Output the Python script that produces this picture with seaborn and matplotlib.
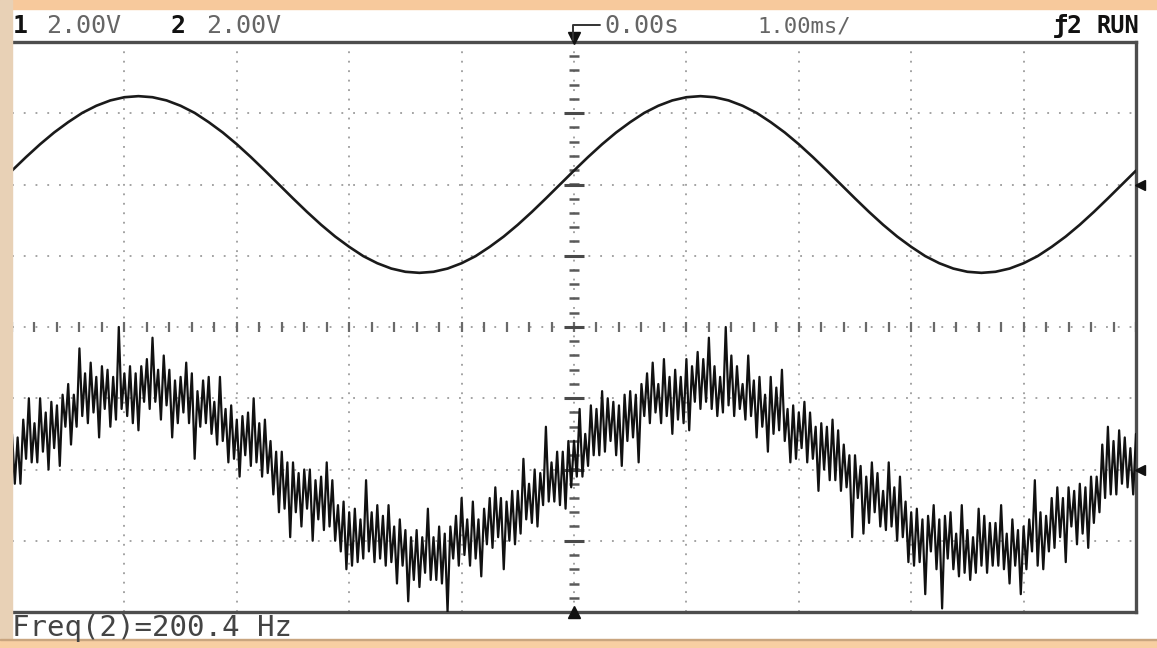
import numpy as np
import pandas as pd
import matplotlib
matplotlib.use("Agg")
import matplotlib.pyplot as plt
from matplotlib.patches import Rectangle
from matplotlib.lines import Line2D
import seaborn as sns

volts_per_div = [2.0, 2.0]      # canal 1, canal 2
ground_div = [2.0, -2.0]        # nivel de tierra de cada canal (div)
ms_per_div = 1.0

# canal 1: muestras cada 0.125 ms, de -5 a 5 ms (V)
ch1_v = [0.39, 0.77, 1.13, 1.46, 1.75, 2.01, 2.21, 2.36, 2.45, 2.48,
         2.45, 2.36, 2.21, 2.01, 1.75, 1.46, 1.13, 0.77, 0.39, 0.0,
         -0.39, -0.77, -1.13, -1.46, -1.75, -2.01, -2.21, -2.36, -2.45, -2.48,
         -2.45, -2.36, -2.21, -2.01, -1.75, -1.46, -1.13, -0.77, -0.39, 0.0,
         0.39, 0.77, 1.13, 1.46, 1.75, 2.01, 2.21, 2.36, 2.45, 2.48,
         2.45, 2.36, 2.21, 2.01, 1.75, 1.46, 1.13, 0.77, 0.39, 0.0,
         -0.39, -0.77, -1.13, -1.46, -1.75, -2.01, -2.21, -2.36, -2.45, -2.48,
         -2.45, -2.36, -2.21, -2.01, -1.75, -1.46, -1.13, -0.77, -0.39, 0.0,
         0.39]

# canal 2: muestras cada 0.025 ms, de -5 a 5 ms (V) -> señal con ruido
ch2_v = [1.0, -0.4, 0.9, -0.4, 1.4, 0.3, 2.0, 0.2, 1.3, 0.2,
         2.0, 0.5, 1.6, 0.0, 1.9, 0.6, 1.8, 0.1, 2.1, 1.2,
         2.4, 0.7, 2.1, 1.2, 3.4, 1.5, 2.7, 1.3, 3.0, 1.6,
         2.6, 0.9, 2.9, 1.7, 2.8, 1.2, 2.6, 1.4, 4.0, 1.7,
         2.7, 1.5, 2.9, 1.3, 2.7, 1.1, 2.9, 1.9, 3.1, 1.7,
         3.7, 1.9, 2.8, 1.4, 3.2, 1.8, 2.8, 0.9, 2.5, 1.3,
         2.6, 1.6, 3.0, 1.3, 2.7, 0.3, 2.2, 1.2, 2.5, 1.3,
         2.6, 1.0, 1.9, 0.7, 2.6, 0.8, 1.7, 0.2, 1.8, 0.3,
         1.4, -0.2, 1.5, 0.4, 1.6, 0.1, 2.0, 0.2, 1.3, -0.2,
         1.4, -0.1, 0.8, -0.7, 0.5, -1.2, 0.5, -1.1, 0.2, -1.9,
         0.2, -1.2, -0.1, -1.6, 0.0, -1.1, 0.0, -2.0, -0.3, -1.4,
         -0.2, -1.7, 0.2, -1.6, -0.3, -2.0, -1.0, -2.3, -0.9, -2.8,
         -1.2, -2.7, -1.1, -2.6, -1.4, -2.5, -0.3, -2.3, -1.2, -2.6,
         -1.0, -2.5, -1.3, -2.7, -1.0, -2.6, -1.6, -3.2, -1.4, -2.7,
         -1.7, -3.7, -1.9, -3.1, -1.7, -3.3, -1.9, -2.9, -1.1, -3.1,
         -1.9, -3.1, -1.6, -3.2, -1.8, -4.0, -1.6, -2.5, -1.3, -2.7,
         -0.8, -2.4, -1.4, -2.7, -0.9, -2.5, -1.4, -3.0, -1.1, -2.1,
         -0.8, -2.2, -0.5, -1.9, -0.8, -2.8, -0.9, -2.0, -0.6, -2.1,
         -0.6, -1.8, 0.3, -1.4, -0.4, -1.5, 0.0, -1.6, -0.1, -1.0,
         1.2, -0.9, 0.2, -0.9, 0.5, -1.0, 0.5, -1.1, 0.8, -0.5,
         0.8, -0.2, 1.7, -0.2, 1.0, 0.1, 1.8, 0.4, 1.7, 0.4,
         2.2, 0.5, 2.0, 0.8, 1.9, 0.4, 1.8, 0.1, 2.1, 0.8,
         2.2, 0.9, 2.1, 0.2, 2.4, 1.5, 2.7, 1.3, 3.0, 1.6,
         2.4, 1.3, 3.1, 1.5, 2.6, 1.0, 2.8, 1.4, 2.6, 1.3,
         3.1, 1.1, 2.9, 1.9, 3.3, 1.7, 3.1, 1.9, 3.7, 1.7,
         2.9, 1.5, 2.6, 1.6, 4.0, 1.8, 3.2, 1.5, 2.9, 1.7,
         2.4, 1.4, 3.2, 1.5, 2.5, 0.9, 2.6, 1.2, 2.1, 0.5,
         2.6, 1.0, 2.3, 1.1, 2.8, 0.8, 1.7, 0.2, 1.8, 0.3,
         1.6, 0.6, 1.9, 0.2, 1.6, 0.3, 1.2, -0.6, 1.3, 0.0,
         1.2, -0.3, 1.4, -0.3, 1.1, -0.6, 0.7, -0.5, 0.4, -1.9,
         0.4, -0.8, 0.1, -1.8, -0.2, -1.5, 0.2, -1.2, -0.1, -1.6,
         -0.6, -1.7, 0.2, -1.6, -0.5, -2.0, -0.2, -1.9, -0.9, -2.6,
         -1.2, -2.7, -1.1, -2.6, -1.4, -3.5, -1.3, -2.3, -1.0, -2.8,
         -1.4, -3.9, -1.3, -2.5, -1.2, -2.8, -1.8, -3.0, -1.0, -2.9,
         -1.7, -3.1, -1.9, -2.9, -1.1, -2.7, -1.3, -2.9, -1.5, -2.7,
         -1.5, -2.7, -1.0, -2.8, -1.8, -3.2, -1.4, -2.7, -1.7, -3.5,
         -1.6, -2.8, -1.4, -2.3, -0.3, -2.7, -1.2, -2.8, -1.3, -2.3,
         -0.8, -2.2, -0.5, -1.9, -0.8, -2.6, -0.5, -1.6, -0.6, -2.1,
         -0.4, -1.8, -0.5, -2.2, -0.2, -1.5, -0.2, -1.2, 0.7, -0.8,
         1.2, -0.7, 0.8, -0.7, 1.1, -0.4, 0.9, -0.5, 0.6, -0.7,
         1.0]

# textos de la pantalla
header_txt = ["1", "2.00V", "2", "2.00V", "0.00s", "1.00ms/", "ƒ2", "RUN"]
footer_txt = "Freq(2)=200.4 Hz"

# ---------------- tabla para seaborn ----------------
df1 = pd.DataFrame({"t": np.linspace(-5, 5, len(ch1_v)), "v": ch1_v})
df2 = pd.DataFrame({"t": np.linspace(-5, 5, len(ch2_v)), "v": ch2_v})
df1["div"] = df1["v"] / volts_per_div[0] + ground_div[0]
df2["div"] = df2["v"] / volts_per_div[1] + ground_div[1]

# ---------------- figura ----------------
W, H = 1157, 648
sns.set_style("white")
plt.rcParams["font.family"] = ["DejaVu Sans Mono", "DejaVu Sans"]
fig = plt.figure(figsize=(W / 100, H / 100), dpi=100)

def px(x, y):
    return x / W, 1 - y / H

# marco naranja/beige del recorte
fig.patches.append(Rectangle((0, 1 - 9 / H), 1, 9 / H, transform=fig.transFigure,
                             color="#f7c99c", zorder=0))
fig.patches.append(Rectangle((0, 0), 12 / W, 1, transform=fig.transFigure,
                             color="#e8d1b6", zorder=0))
fig.patches.append(Rectangle((0, 0), 1, 8 / H, transform=fig.transFigure,
                             color="#f8cfa2", zorder=0))
fig.patches.append(Rectangle((0, 8 / H), 1, 1.5 / H, transform=fig.transFigure,
                             color="#c9a57f", zorder=0))

ax = fig.add_axes([12 / W, (H - 612) / H, 1124 / W, 570 / H])
ax.set_xlim(-5, 5)
ax.set_ylim(-4, 4)

# retícula
for gx in range(-4, 5):
    ax.axvline(gx, color="#8a8a8a", lw=1.1, ls=(0, (1.2, 5)), zorder=1)
for gy in range(-3, 4):
    ax.axhline(gy, color="#8a8a8a", lw=1.1, ls=(0, (1.2, 6.5)), zorder=1)
ticks_x = np.arange(-5, 5.01, 0.2)
ticks_y = np.arange(-4, 4.01, 0.2)
ax.plot(ticks_x, np.zeros_like(ticks_x), ls="none", marker="|", ms=7,
        mew=1.6, color="#6a6a6a", zorder=1)
ax.plot(np.zeros_like(ticks_y), ticks_y, ls="none", marker="_", ms=7,
        mew=1.8, color="#5a5a5a", zorder=1)
ax.plot(np.zeros(7), np.arange(-3, 4), ls="none", marker="_", ms=14,
        mew=2.2, color="#4a4a4a", zorder=1)

# trazas
sns.lineplot(data=df2, x="t", y="div", ax=ax, color="#111111", lw=1.6,
             estimator=None, sort=False, zorder=3)
sns.lineplot(data=df1, x="t", y="div", ax=ax, color="#1a1a1a", lw=1.9,
             estimator=None, sort=False, zorder=4)

# marcadores de canal y disparo
ax.plot([5.04, 5.04], ground_div, ls="none", marker="<", ms=7, color="#111111",
        clip_on=False, zorder=5)
ax.plot([0], [4.05], ls="none", marker="v", ms=8, color="#111111", clip_on=False, zorder=5)
ax.plot([0], [-4], ls="none", marker="^", ms=8, color="#111111", clip_on=False, zorder=5)

ax.set_xticks([])
ax.set_yticks([])
ax.set_xlabel("")
ax.set_ylabel("")
for side in ["top", "bottom", "right"]:
    ax.spines[side].set_color("#4d4d4d")
    ax.spines[side].set_linewidth(2.4)
ax.spines["left"].set_visible(False)

# línea del disparo en la cabecera
fig.lines.append(Line2D([573 / W, 573 / W, 600 / W], [1 - 40 / H, 1 - 25 / H, 1 - 25 / H],
                        transform=fig.transFigure, color="#333333", lw=1.4))

# cabecera
gray = "#666666"
fs = 18
fig.text(*px(13, 26), header_txt[0], fontsize=fs, fontweight="bold", color="#111111", va="center")
fig.text(*px(46, 26), header_txt[1], fontsize=fs, color=gray, va="center")
fig.text(*px(171, 26), header_txt[2], fontsize=fs, fontweight="bold", color="#111111", va="center")
fig.text(*px(206, 26), header_txt[3], fontsize=fs, color=gray, va="center")
fig.text(*px(604, 26), header_txt[4], fontsize=fs, color=gray, va="center")
fig.text(*px(757, 26), header_txt[5], fontsize=fs - 2, color=gray, va="center")
fig.text(*px(1053, 26), header_txt[6], fontsize=fs, fontweight="bold", color="#111111", va="center")
fig.text(*px(1097, 26), header_txt[7], fontsize=fs - 1, fontweight="bold", color="#111111", va="center")

# pie
fig.text(*px(12, 628), footer_txt, fontsize=21, color="#444444", va="center")

fig.savefig("out.png", dpi=100, facecolor="white")
